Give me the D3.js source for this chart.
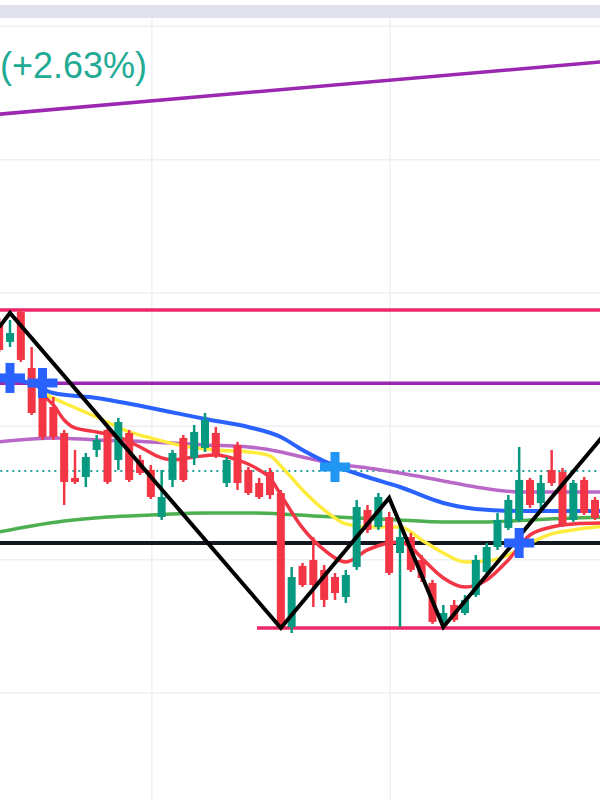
<!DOCTYPE html>
<html>
<head>
<meta charset="utf-8">
<script src="https://cdnjs.cloudflare.com/ajax/libs/d3/7.8.5/d3.min.js"></script>
<style>
  body { margin: 0; background: #ffffff; }
  svg { display: block; }
</style>
</head>
<body>
<script>
// candles on screen, by bar number
var barIdx = [-1, 0, 1, 2, 3, 4, 5, 6, 7, 8, 9, 10, 11, 12, 13, 14, 15, 16, 17, 18, 19,
  20, 21, 22, 23, 24, 25, 26, 27, 28, 29, 30, 31, 32, 33, 34, 35, 36, 37, 38, 39,
  40, 41, 42, 43, 44, 45, 46, 47, 48, 49, 50, 51, 52, 53, 54];
var opens = [277.5, 263.3, 285.8, 243.8, 232.5, 214.5, 195, 161.3, 162, 182.3, 197.3,
  174.8, 195, 174.8, 167.3, 132, 159.8, 191.3, 176.3, 183.8, 195, 157.5, 186, 167.3,
  157.5, 165.8, 150, 49.5, 95.3, 99.8, 92.3, 87, 72, 94.5, 137.3, 124.5, 132, 105,
  117, 99.8, 82.5, 53.3, 66, 60, 73.5, 90.8, 109.5, 123.8, 129.8, 159.8, 142.5,
  167.3, 165.8, 129.8, 159.8, 144.8];
var highs = [281.3, 279.8, 287.3, 259.5, 234.8, 222, 197.3, 182.3, 180, 193.5, 198.8,
  206.3, 197.3, 178.5, 171, 167.3, 182.3, 193.5, 201, 210, 199.5, 177, 188.3, 169.5,
  161.3, 168.8, 152.3, 94.5, 97.5, 117, 96, 90, 92.3, 144.8, 141, 150, 135.8, 129.8,
  120, 103.5, 84.8, 66, 69.8, 73.5, 103.5, 112.5, 135, 148.5, 184.5, 161.3, 163.5,
  182.3, 168.8, 159.8, 162, 147];
var lows = [255.8, 259.5, 248.3, 208.5, 189.8, 189.8, 141, 156.8, 154.5, 177, 156.8,
  167.3, 158.3, 163.5, 145.5, 129.8, 154.5, 158.3, 171, 180.8, 176.3, 154.5, 152.3,
  148.5, 145.5, 145.5, 47.3, 45, 79.5, 64.5, 64.5, 69.8, 67.5, 92.3, 120, 122.3,
  88.5, 49.5, 90.8, 83.3, 51.8, 48.8, 53.3, 58.5, 72, 88.5, 107.3, 122.3, 128.3,
  138.8, 135, 155.3, 124.5, 128.3, 133.5, 129.8];
var closes = [257.3, 270, 249.8, 210, 192, 192, 158.3, 158.3, 177, 189.8, 158.3, 203.3,
  159.8, 165, 147, 147, 180, 159.8, 195.8, 204.8, 178.5, 174.8, 157.5, 150, 147, 148.5,
  48.8, 87, 81, 81, 69.8, 75, 88.5, 139.5, 122.3, 147, 90, 117, 92.3, 86.3, 53.3, 60,
  54.8, 69.8, 99.8, 109.5, 129.8, 144.8, 159.8, 141, 157.5, 157.5, 126, 157.5, 135,
  131.3];

// moving averages, read at some bars
var blueIdx = [-1, 2, 4, 8, 13, 18, 22, 25, 27, 30, 33, 36, 40, 43, 47, 51, 55];
var blueMA = [237.8, 231.8, 225, 221.3, 213.8, 205.5, 199.5, 192, 182.3, 170.3, 162,
  154.5, 142.5, 138, 136.5, 136.5, 136.5];
var purpleMA = [188.3, 190.5, 191.3, 189.8, 188.3, 186, 184.5, 180.8, 177, 171.8, 168.8,
  165, 159, 154.5, 150.8, 150.8, 150.8];
var yellowIdx = [3, 5, 8, 11, 13, 16, 19, 22, 24, 25, 27, 29, 31, 33, 36, 38, 40, 42,
  44, 46, 48, 50, 52, 55];
var yellowMA = [225, 217.5, 207, 195.8, 191.3, 185.3, 182.3, 180.8, 177.8, 170.3, 152.3,
  137.3, 126.8, 124.5, 124.5, 114.8, 105, 98.3, 99, 103.5, 112.5, 119.3, 122.3, 125.3];
var redIdx = [3, 4, 5, 6, 8, 10, 12, 14, 15, 17, 19, 21, 23, 24, 25, 27, 29, 31, 33, 35,
  36, 37, 38, 40, 42, 44, 46, 48, 50, 52, 55];
var redMA = [223.5, 216, 204.8, 198.8, 195.8, 192, 184.5, 176.3, 174.8, 177, 178.5, 174.8,
  167.3, 161.3, 148.5, 123.8, 107.3, 98.3, 107.3, 112.5, 113.3, 109.5, 101.3, 86.3,
  79.5, 84.8, 99.8, 118.5, 124.5, 126.8, 127.5];
var greenIdx = [-1, 2, 5, 9, 13, 18, 22, 25, 28, 32, 36, 40, 44, 48, 52, 55];
var greenMA = [120.8, 125.3, 129, 132, 133.5, 135, 135, 134.3, 132.8, 131.3, 129.8,
  128.3, 128.3, 129.8, 131.3, 132];

// zigzag swing points
var zzIdx = [-1, 0, 25, 35, 40, 56];
var zzVal = [274.5, 285, 48.8, 146.3, 49.5, 205];

// drawn lines
var trendIdx = [-1, 56];
var trendVal = [434.1, 474.4];
var resistance = 287.3;
var midLevel = 232.3;
var lastPrice = 166.5;
var pivot = 112.5;
var support = 48.8;
var supportFrom = 22.8;

// signal crosses
var crossIdx = [0, 3, 30, 47];
var crossVal = [236.3, 232.5, 169.5, 112.5];
var crossKind = ["long", "long", "mid", "long"];

var changeLabel = "(+2.63%)";
var priceTicks = [0, 100, 200, 300, 400, 500];
var timeTicks = [13.1, 35.1];

var svgWidth = 600;
var svgHeight = 800;

var svg = d3.select("body")
  .append("svg")
  .attr("width", svgWidth)
  .attr("height", svgHeight);

var xScale = d3.scaleLinear().domain([0, 54]).range([10, 595]);
var yScale = d3.scaleLinear().domain([0, 500]).range([693, 26.33]);

// grid
svg.append("g").selectAll("line")
  .data(priceTicks)
  .enter().append("line")
  .attr("x1", 0).attr("x2", svgWidth)
  .attr("y1", d => yScale(d)).attr("y2", d => yScale(d))
  .attr("stroke", "#eef0f4").attr("stroke-width", 1.5);

svg.append("g").selectAll("line")
  .data(timeTicks)
  .enter().append("line")
  .attr("y1", 18).attr("y2", svgHeight)
  .attr("x1", d => xScale(d)).attr("x2", d => xScale(d))
  .attr("stroke", "#eef0f4").attr("stroke-width", 1.5);

// top toolbar strip
svg.append("rect")
  .attr("x", 0).attr("y", 5)
  .attr("width", svgWidth).attr("height", 13)
  .attr("fill", "#e0e3eb");

var pts = (idx, vals) => idx.map((d, i) => [d, vals[i]]);

var straight = d3.line()
  .x(d => xScale(d[0]))
  .y(d => yScale(d[1]));

var smooth = d3.line()
  .x(d => xScale(d[0]))
  .y(d => yScale(d[1]))
  .curve(d3.curveMonotoneX);

// purple trend line
svg.append("path")
  .attr("d", straight(pts(trendIdx, trendVal)))
  .attr("fill", "none").attr("stroke", "#9c27b0").attr("stroke-width", 3.5);

// horizontal levels
function level(v, from, color, width, dash) {
  svg.append("line")
    .attr("x1", xScale(from)).attr("x2", xScale(57))
    .attr("y1", yScale(v)).attr("y2", yScale(v))
    .attr("stroke", color).attr("stroke-width", width)
    .attr("stroke-dasharray", dash || null);
}
level(resistance, -2, "#ec2867", 3.5);
level(midLevel, -2, "#9c27b0", 3.5);
level(pivot, -2, "#131722", 4);
level(support, supportFrom, "#ec2867", 3.5);
level(lastPrice, -2, "#26a69a", 2, "2 4");

// moving averages
var maList = [
  [greenIdx, greenMA, "#4caf50", 3.5],
  [blueIdx, purpleMA, "#ba68c8", 3.5],
  [blueIdx, blueMA, "#2962ff", 4],
  [yellowIdx, yellowMA, "#ffeb3b", 3.5],
  [redIdx, redMA, "#f23645", 3.5]
];
maList.forEach(function(m) {
  svg.append("path")
    .attr("d", smooth(pts(m[0], m[1])))
    .attr("fill", "none")
    .attr("stroke", m[2])
    .attr("stroke-width", m[3])
    .attr("stroke-linejoin", "round");
});

// candles
var candles = barIdx.map((d, i) => ({
  i: d, o: opens[i], h: highs[i], l: lows[i], c: closes[i]
}));
var upColor = "#089981";
var downColor = "#f23645";
var bodyW = 8;

var cg = svg.append("g").selectAll("g")
  .data(candles)
  .enter().append("g");

cg.append("line")
  .attr("x1", d => xScale(d.i)).attr("x2", d => xScale(d.i))
  .attr("y1", d => yScale(d.h)).attr("y2", d => yScale(d.l))
  .attr("stroke", d => d.c >= d.o ? upColor : downColor)
  .attr("stroke-width", 2.5);

cg.append("rect")
  .attr("x", d => xScale(d.i) - bodyW / 2)
  .attr("width", bodyW)
  .attr("y", d => yScale(Math.max(d.o, d.c)))
  .attr("height", d => Math.max(3, Math.abs(yScale(d.o) - yScale(d.c))))
  .attr("fill", d => d.c >= d.o ? upColor : downColor);

// zigzag
svg.append("path")
  .attr("d", straight(pts(zzIdx, zzVal)))
  .attr("fill", "none").attr("stroke", "#000000")
  .attr("stroke-width", 4).attr("stroke-linejoin", "miter");

// crosses
var crossColor = { long: "#2962ff", mid: "#2196f3" };
var crossSize = 30;
var crossArm = 9;
var cx = svg.append("g").selectAll("g")
  .data(crossIdx.map((d, i) => ({ i: d, v: crossVal[i], k: crossKind[i] })))
  .enter().append("g")
  .attr("transform", d => `translate(${xScale(d.i)}, ${yScale(d.v)})`)
  .attr("fill", d => crossColor[d.k]);
cx.append("rect")
  .attr("x", -crossSize / 2).attr("y", -crossArm / 2)
  .attr("width", crossSize).attr("height", crossArm);
cx.append("rect")
  .attr("x", -crossArm / 2).attr("y", -crossSize / 2)
  .attr("width", crossArm).attr("height", crossSize);

// change label
svg.append("text")
  .attr("x", 0).attr("y", 78)
  .attr("font-family", "Liberation Sans, Arial, sans-serif")
  .attr("font-size", 36)
  .attr("fill", "#22ab94")
  .text(changeLabel);
</script>
</body>
</html>
